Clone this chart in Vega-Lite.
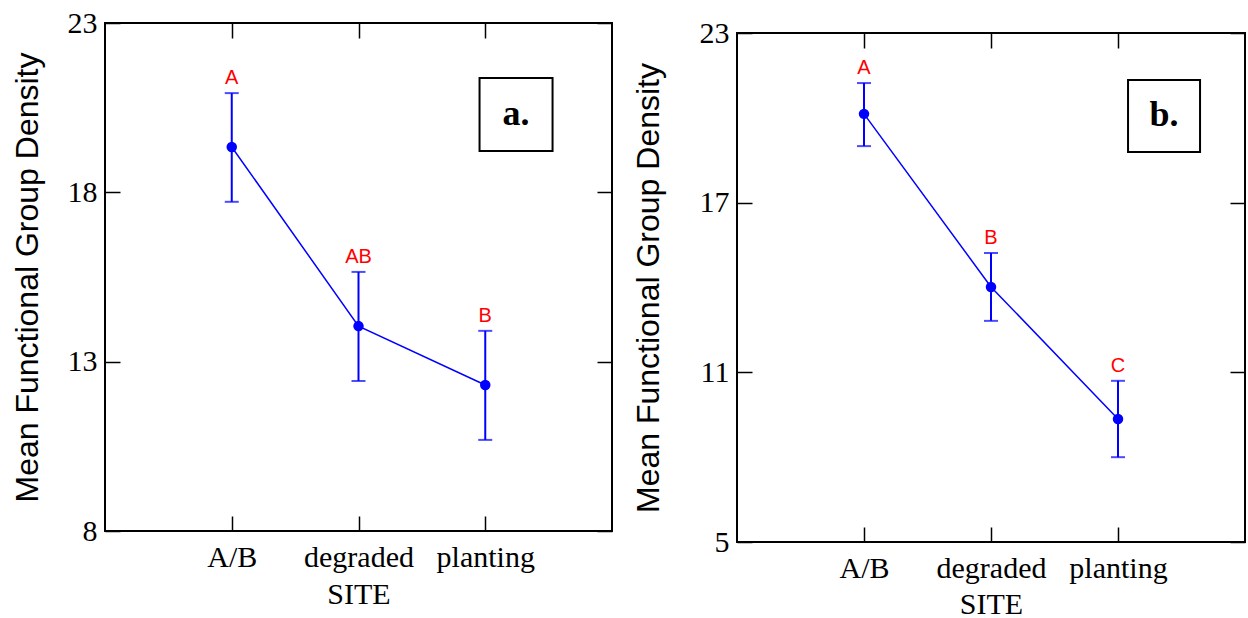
{
  "$schema": "https://vega.github.io/schema/vega-lite/v6.json",
  "padding": {"left": 10, "top": 7, "right": 0, "bottom": 0},
  "datasets": {
    "a": [
      {"site": "A/B", "mean": 19.34, "lo": 17.72, "hi": 20.93, "grp": "A"},
      {"site": "degraded", "mean": 14.05, "lo": 12.43, "hi": 15.65, "grp": "AB"},
      {"site": "planting", "mean": 12.31, "lo": 10.69, "hi": 13.91, "grp": "B"}
    ],
    "b": [
      {"site": "A/B", "mean": 20.14, "lo": 19.0, "hi": 21.23, "grp": "A"},
      {"site": "degraded", "mean": 14.02, "lo": 12.82, "hi": 15.22, "grp": "B"},
      {"site": "planting", "mean": 9.35, "lo": 8.0, "hi": 10.7, "grp": "C"}
    ]
  },
  "config": {
    "view": {"stroke": "black", "strokeWidth": 2},
    "axis": {
      "domain": false, "grid": false, "tickColor": "black", "tickWidth": 1.5, "tickSize": -15, "zindex": 1,
      "labelFont": "Liberation Serif", "labelFontSize": 30, "labelColor": "black",
      "titleFont": "Liberation Serif", "titleFontSize": 30, "titleColor": "black", "titleFontWeight": "normal"
    },
    "axisY": {"titleFont": "Liberation Sans", "titleFontSize": 32}
  },
  "spacing": 17,
  "hconcat": [
    {
      "width": 507, "height": 508,
      "layer": [
        {
          "data": {"name": "a"},
          "encoding": {"x": {"field": "site", "type": "nominal", "sort": null, "scale": {"type": "point", "padding": 1}, "axis": {"title": "SITE", "labelAngle": 0, "labelPadding": 26, "titlePadding": 7}}},
          "layer": [
            {"mark": {"type": "rule", "color": "#0000ff", "strokeWidth": 2},
             "encoding": {"y": {"field": "lo", "type": "quantitative", "scale": {"domain": [8, 23], "nice": false, "zero": false}, "axis": {"values": [8, 13, 18, 23], "title": "Mean Functional Group Density", "labelPadding": 23, "titlePadding": 23}}, "y2": {"field": "hi"}}},
            {"mark": {"type": "tick", "color": "#0000ff", "thickness": 2, "size": 14}, "encoding": {"y": {"field": "lo", "type": "quantitative"}}},
            {"mark": {"type": "tick", "color": "#0000ff", "thickness": 2, "size": 14}, "encoding": {"y": {"field": "hi", "type": "quantitative"}}},
            {"mark": {"type": "line", "color": "#0000ff", "strokeWidth": 1.5}, "encoding": {"y": {"field": "mean", "type": "quantitative"}}},
            {"mark": {"type": "point", "filled": true, "opacity": 1, "size": 110, "color": "#0000ff"}, "encoding": {"y": {"field": "mean", "type": "quantitative"}}},
            {"mark": {"type": "text", "color": "#ff0000", "font": "Liberation Sans", "fontSize": 20, "dy": -9, "baseline": "alphabetic"}, "encoding": {"y": {"field": "hi", "type": "quantitative"}, "text": {"field": "grp"}}}
          ]
        },
        {
          "data": {"values": [{"label": "a."}]},
          "layer": [
            {"mark": {"type": "rect", "fill": "white", "stroke": "black", "strokeWidth": 2},
             "encoding": {
               "x": {"datum": 2.955, "type": "quantitative", "scale": {"domain": [0, 4], "nice": false}, "axis": {"orient": "top", "values": [1, 2, 3], "labels": false, "title": null}},
               "x2": {"datum": 3.531},
               "y": {"datum": 21.376, "type": "quantitative", "scale": {"domain": [8, 23], "nice": false, "zero": false}, "axis": {"orient": "right", "values": [8, 13, 18, 23], "labels": false, "title": null}},
               "y2": {"datum": 19.221}}},
            {"mark": {"type": "text", "font": "Liberation Serif", "fontWeight": "bold", "fontSize": 36, "baseline": "alphabetic", "color": "black"},
             "encoding": {"x": {"datum": 3.243, "type": "quantitative"}, "y": {"datum": 20.0, "type": "quantitative"}, "text": {"field": "label"}}}
          ]
        }
      ],
      "resolve": {"scale": {"x": "independent", "y": "independent"}}
    },
    {
      "spacing": -10,
      "vconcat": [
        {"width": 508, "height": 1, "view": {"stroke": null}, "data": {"values": [{}]}, "mark": {"type": "point", "opacity": 0}},
        {
          "width": 508, "height": 509,
          "layer": [
            {
              "data": {"name": "b"},
              "encoding": {"x": {"field": "site", "type": "nominal", "sort": null, "scale": {"type": "point", "padding": 1}, "axis": {"title": "SITE", "labelAngle": 0, "labelPadding": 26, "titlePadding": 6}}},
              "layer": [
                {"mark": {"type": "rule", "color": "#0000ff", "strokeWidth": 2},
                 "encoding": {"y": {"field": "lo", "type": "quantitative", "scale": {"domain": [5, 23], "nice": false, "zero": false}, "axis": {"values": [5, 11, 17, 23], "title": "Mean Functional Group Density", "labelPadding": 23, "titlePadding": 34}}, "y2": {"field": "hi"}}},
                {"mark": {"type": "tick", "color": "#0000ff", "thickness": 2, "size": 14}, "encoding": {"y": {"field": "lo", "type": "quantitative"}}},
                {"mark": {"type": "tick", "color": "#0000ff", "thickness": 2, "size": 14}, "encoding": {"y": {"field": "hi", "type": "quantitative"}}},
                {"mark": {"type": "line", "color": "#0000ff", "strokeWidth": 1.5}, "encoding": {"y": {"field": "mean", "type": "quantitative"}}},
                {"mark": {"type": "point", "filled": true, "opacity": 1, "size": 110, "color": "#0000ff"}, "encoding": {"y": {"field": "mean", "type": "quantitative"}}},
                {"mark": {"type": "text", "color": "#ff0000", "font": "Liberation Sans", "fontSize": 20, "dy": -9, "baseline": "alphabetic"}, "encoding": {"y": {"field": "hi", "type": "quantitative"}, "text": {"field": "grp"}}}
              ]
            },
            {
              "data": {"values": [{"label": "b."}]},
              "layer": [
                {"mark": {"type": "rect", "fill": "white", "stroke": "black", "strokeWidth": 2},
                 "encoding": {
                   "x": {"datum": 3.079, "type": "quantitative", "scale": {"domain": [0, 4], "nice": false}, "axis": {"orient": "top", "values": [1, 2, 3], "labels": false, "title": null}},
                   "x2": {"datum": 3.646},
                   "y": {"datum": 21.338, "type": "quantitative", "scale": {"domain": [5, 23], "nice": false, "zero": false}, "axis": {"orient": "right", "values": [5, 11, 17, 23], "labels": false, "title": null}},
                   "y2": {"datum": 18.792}}},
                {"mark": {"type": "text", "font": "Liberation Serif", "fontWeight": "bold", "fontSize": 36, "baseline": "alphabetic", "color": "black"},
                 "encoding": {"x": {"datum": 3.362, "type": "quantitative"}, "y": {"datum": 19.71, "type": "quantitative"}, "text": {"field": "label"}}}
              ]
            }
          ],
          "resolve": {"scale": {"x": "independent", "y": "independent"}}
        }
      ]
    }
  ]
}
